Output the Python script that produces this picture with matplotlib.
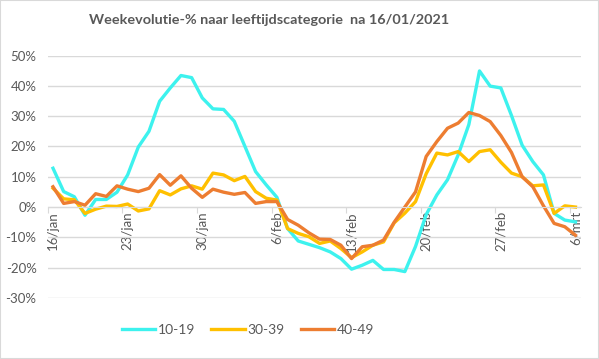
import numpy as np
import matplotlib
matplotlib.use("Agg")
import matplotlib.pyplot as plt
from matplotlib.patches import Rectangle

plt.rcParams['font.family'] = ['Lato', 'DejaVu Sans']

# --- data (weekly change in %) ---
tick_labels = ['16/jan', '23/jan', '30/jan', '6/feb', '13/feb', '20/feb', '27/feb', '6/mrt']
series_names = ['10-19', '30-39', '40-49']

age_10_19 = [12.8, 5.1, 3.4, -2.7, 2.5, 2.5, 4.9, 10.6, 19.8, 25.0,
             34.9, 39.3, 43.4, 42.7, 36.0, 32.4, 32.2, 28.3, 20.0, 11.7,
             7.3, 3.2, -7.1, -11.2, -12.3, -13.4, -14.8, -17.0, -20.5, -19.2,
             -17.6, -20.6, -20.6, -21.3, -13.0, -2.5, 4.0, 9.0, 17.2, 27.2,
             44.9, 39.9, 39.3, 30.2, 20.4, 15.0, 10.6, -2.1, -4.3, -4.9]
age_30_39 = [6.2, 2.7, 2.4, -2.1, -0.7, 0.3, 0.2, 1.0, -1.3, -0.6,
             5.4, 4.0, 6.0, 7.0, 5.9, 11.2, 10.6, 8.7, 10.1, 5.1,
             2.9, 2.3, -7.1, -8.7, -9.8, -12.0, -11.2, -13.7, -16.7, -14.8,
             -12.6, -11.5, -5.2, -2.0, 1.8, 11.0, 17.8, 17.2, 18.3, 15.0,
             18.3, 18.9, 14.8, 11.2, 10.0, 7.0, 7.3, -2.1, 0.4, 0.0]
age_40_49 = [6.7, 1.2, 1.8, 0.6, 4.4, 3.5, 7.0, 5.9, 5.1, 6.2,
             10.7, 7.2, 10.3, 6.2, 3.2, 5.9, 4.9, 4.2, 4.8, 1.2,
             1.8, 1.8, -4.1, -6.0, -8.5, -10.6, -10.7, -12.6, -17.0, -13.1,
             -12.6, -10.9, -5.0, 0.0, 5.0, 16.7, 21.6, 26.0, 27.7, 31.2,
             30.2, 28.2, 23.6, 18.0, 10.0, 6.7, 0.4, -5.4, -6.5, -9.3]

colors = ['#3DF2EE', '#FFC000', '#ED7D31']
text_col = '#595959'
grid_col = '#D9D9D9'

fig = plt.figure(figsize=(5.99, 3.59), dpi=100)
ax = fig.add_axes([0.0796, 0.170, 0.890, 0.6754])

n = len(age_10_19)
x = np.arange(n)
for vals, c, name in zip([age_10_19, age_30_39, age_40_49], colors, series_names):
    ax.plot(x, np.array(vals) / 100, color=c, lw=2.4, label=name, solid_joinstyle='round')

ax.set_xlim(-0.5, n - 0.5)
ax.set_ylim(-0.3, 0.5)
ax.set_yticks(np.arange(-0.3, 0.51, 0.1))
ax.set_yticklabels([f'{int(round(v * 100))}%' for v in np.arange(-0.3, 0.51, 0.1)])
ax.grid(axis='y', color=grid_col, lw=1)
ax.set_axisbelow(True)
ax.tick_params(axis='y', length=0, pad=8, labelsize=9.5, labelcolor=text_col)

for s in ['top', 'right', 'left']:
    ax.spines[s].set_visible(False)
ax.spines['bottom'].set_position(('data', 0))
ax.spines['bottom'].set_color(grid_col)

# tick marks between categories, labels centred on categories
ax.set_xticks(np.arange(-0.5, n, 7))
ax.set_xticklabels([])
ax.tick_params(axis='x', which='major', length=4, color=grid_col, direction='out')
ax.set_xticks(np.arange(0, n, 7), minor=True)
ax.set_xticklabels(tick_labels, minor=True, rotation=90)
ax.tick_params(axis='x', which='minor', length=0, pad=3, labelsize=9.5, labelcolor=text_col)

fig.text(269 / 599, 1 - 20 / 359, 'Weekevolutie-% naar leeftijdscategorie  na 16/01/2021',
         ha='center', va='center', fontsize=10.4, fontweight='bold', color=text_col)

fig.legend(loc='center', bbox_to_anchor=(248 / 599, 1 - 330 / 359), ncol=3, frameon=False,
           fontsize=10, handlelength=2.4, handletextpad=0.2, columnspacing=1.15, labelcolor=text_col)

fig.patches.append(Rectangle((0, 0), 1, 1, transform=fig.transFigure, fill=False,
                             edgecolor=grid_col, lw=1.5))

fig.savefig('out.png', dpi=100)
